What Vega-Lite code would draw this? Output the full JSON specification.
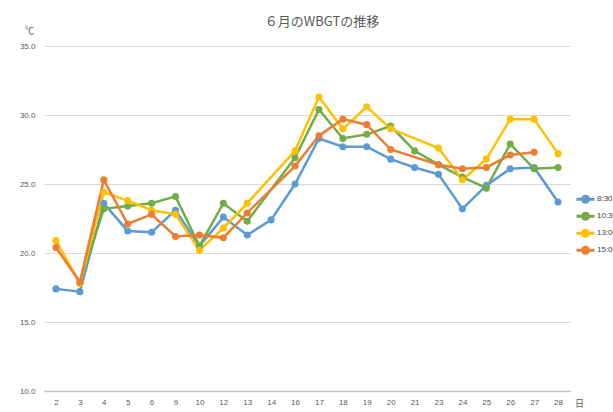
{
  "$schema": "https://vega.github.io/schema/vega-lite/v6.json",
  "width": 526,
  "height": 345,
  "autosize": "none",
  "padding": {"left": 44, "top": 46, "right": 43, "bottom": 21},
  "background": "white",
  "config": {"view": {"stroke": null}, "font": "Liberation Sans"},
  "title": {"text": "６月のWBGTの推移", "font": "Noto Sans CJK JP", "fontSize": 13, "fontWeight": "normal", "color": "#595959", "anchor": "middle", "dx": 15, "dy": 21, "offset": 18},
  "data": {"values": [
    {"day": "2", "time": "8:30", "v": 17.4},
    {"day": "3", "time": "8:30", "v": 17.2},
    {"day": "4", "time": "8:30", "v": 23.6},
    {"day": "5", "time": "8:30", "v": 21.6},
    {"day": "6", "time": "8:30", "v": 21.5},
    {"day": "9", "time": "8:30", "v": 23.1},
    {"day": "10", "time": "8:30", "v": 20.5},
    {"day": "12", "time": "8:30", "v": 22.6},
    {"day": "13", "time": "8:30", "v": 21.3},
    {"day": "14", "time": "8:30", "v": 22.4},
    {"day": "16", "time": "8:30", "v": 25.0},
    {"day": "17", "time": "8:30", "v": 28.3},
    {"day": "18", "time": "8:30", "v": 27.7},
    {"day": "19", "time": "8:30", "v": 27.7},
    {"day": "20", "time": "8:30", "v": 26.8},
    {"day": "21", "time": "8:30", "v": 26.2},
    {"day": "23", "time": "8:30", "v": 25.7},
    {"day": "24", "time": "8:30", "v": 23.2},
    {"day": "25", "time": "8:30", "v": 24.9},
    {"day": "26", "time": "8:30", "v": 26.1},
    {"day": "27", "time": "8:30", "v": 26.2},
    {"day": "28", "time": "8:30", "v": 23.7},
    {"day": "3", "time": "10:30", "v": 17.8},
    {"day": "4", "time": "10:30", "v": 23.2},
    {"day": "5", "time": "10:30", "v": 23.4},
    {"day": "6", "time": "10:30", "v": 23.6},
    {"day": "9", "time": "10:30", "v": 24.1},
    {"day": "10", "time": "10:30", "v": 20.5},
    {"day": "12", "time": "10:30", "v": 23.6},
    {"day": "13", "time": "10:30", "v": 22.3},
    {"day": "16", "time": "10:30", "v": 26.9},
    {"day": "17", "time": "10:30", "v": 30.4},
    {"day": "18", "time": "10:30", "v": 28.3},
    {"day": "19", "time": "10:30", "v": 28.6},
    {"day": "20", "time": "10:30", "v": 29.2},
    {"day": "21", "time": "10:30", "v": 27.4},
    {"day": "23", "time": "10:30", "v": 26.4},
    {"day": "24", "time": "10:30", "v": 25.5},
    {"day": "25", "time": "10:30", "v": 24.7},
    {"day": "26", "time": "10:30", "v": 27.9},
    {"day": "27", "time": "10:30", "v": 26.1},
    {"day": "28", "time": "10:30", "v": 26.2},
    {"day": "2", "time": "13:00", "v": 20.9},
    {"day": "3", "time": "13:00", "v": 17.8},
    {"day": "4", "time": "13:00", "v": 24.4},
    {"day": "5", "time": "13:00", "v": 23.8},
    {"day": "6", "time": "13:00", "v": 23.1},
    {"day": "9", "time": "13:00", "v": 22.8},
    {"day": "10", "time": "13:00", "v": 20.2},
    {"day": "12", "time": "13:00", "v": 21.8},
    {"day": "13", "time": "13:00", "v": 23.6},
    {"day": "16", "time": "13:00", "v": 27.4},
    {"day": "17", "time": "13:00", "v": 31.3},
    {"day": "18", "time": "13:00", "v": 29.0},
    {"day": "19", "time": "13:00", "v": 30.6},
    {"day": "20", "time": "13:00", "v": 29.0},
    {"day": "23", "time": "13:00", "v": 27.6},
    {"day": "24", "time": "13:00", "v": 25.3},
    {"day": "25", "time": "13:00", "v": 26.8},
    {"day": "26", "time": "13:00", "v": 29.7},
    {"day": "27", "time": "13:00", "v": 29.7},
    {"day": "28", "time": "13:00", "v": 27.2},
    {"day": "2", "time": "15:00", "v": 20.4},
    {"day": "3", "time": "15:00", "v": 17.9},
    {"day": "4", "time": "15:00", "v": 25.3},
    {"day": "5", "time": "15:00", "v": 22.1},
    {"day": "6", "time": "15:00", "v": 22.8},
    {"day": "9", "time": "15:00", "v": 21.2},
    {"day": "10", "time": "15:00", "v": 21.3},
    {"day": "12", "time": "15:00", "v": 21.1},
    {"day": "13", "time": "15:00", "v": 22.9},
    {"day": "16", "time": "15:00", "v": 26.3},
    {"day": "17", "time": "15:00", "v": 28.5},
    {"day": "18", "time": "15:00", "v": 29.7},
    {"day": "19", "time": "15:00", "v": 29.3},
    {"day": "20", "time": "15:00", "v": 27.5},
    {"day": "23", "time": "15:00", "v": 26.4},
    {"day": "24", "time": "15:00", "v": 26.1},
    {"day": "25", "time": "15:00", "v": 26.2},
    {"day": "26", "time": "15:00", "v": 27.1},
    {"day": "27", "time": "15:00", "v": 27.3}
  ]},
  "encoding": {
    "x": {
      "field": "day", "type": "ordinal",
      "scale": {"type": "point", "padding": 0.5, "domain": ["2","3","4","5","6","9","10","12","13","14","16","17","18","19","20","21","23","24","25","26","27","28"]},
      "axis": {
        "title": "日", "titleX": 535, "titleY": 12, "titleAngle": 0, "titleAlign": "center", "titleBaseline": "middle",
        "titleFont": "Noto Sans CJK JP", "titleFontSize": 9, "titleFontWeight": "normal", "titleColor": "#595959",
        "labelAngle": 0, "labelFontSize": 8, "labelColor": "#595959", "labelPadding": 7,
        "ticks": false, "domainColor": "#BFBFBF", "domainWidth": 1.5, "grid": false
      }
    },
    "y": {
      "field": "v", "type": "quantitative",
      "scale": {"domain": [10, 35], "nice": false, "zero": false},
      "axis": {
        "values": [10, 15, 20, 25, 30, 35], "format": ".1f",
        "title": "℃", "titleAngle": 0, "titleX": -15, "titleY": -16, "titleAlign": "center", "titleBaseline": "middle",
        "titleFont": "Noto Sans CJK JP", "titleFontSize": 9, "titleFontWeight": "normal", "titleColor": "#595959",
        "labelFontSize": 8, "labelColor": "#595959", "labelPadding": 9,
        "domain": false, "ticks": false, "grid": true, "gridColor": "#D9D9D9", "gridWidth": 1
      }
    }
  },
  "layer": [
    {
      "mark": {"type": "line", "strokeWidth": 2.5},
      "encoding": {
        "color": {"field": "time", "type": "nominal", "scale": {"domain": ["8:30","10:30","13:00","15:00"], "range": ["#5B9BD5","#70AD47","#FFC000","#ED7D31"]},
          "legend": {
            "title": null, "orient": "none", "legendX": 531, "legendY": 145, "padding": 0,
            "symbolType": "M-1,0H1 M0.33,0A0.33,0.33,0,1,1,-0.33,0A0.33,0.33,0,1,1,0.33,0Z M0.12,0A0.12,0.12,0,1,1,-0.12,0A0.12,0.12,0,1,1,0.12,0Z",
            "symbolSize": 324, "symbolStrokeWidth": 3, "symbolOpacity": 1,
            "labelFontSize": 8, "labelColor": "#404040", "labelOffset": 1, "rowPadding": 0, "clipHeight": 16.5
          }
        }
      }
    },
    {
      "mark": {"type": "point", "filled": true, "size": 50, "opacity": 1},
      "encoding": {
        "fill": {"field": "time", "type": "nominal", "scale": {"domain": ["8:30","10:30","13:00","15:00"], "range": ["#5B9BD5","#70AD47","#FFC000","#ED7D31"]}, "legend": null}
      }
    }
  ]
}
